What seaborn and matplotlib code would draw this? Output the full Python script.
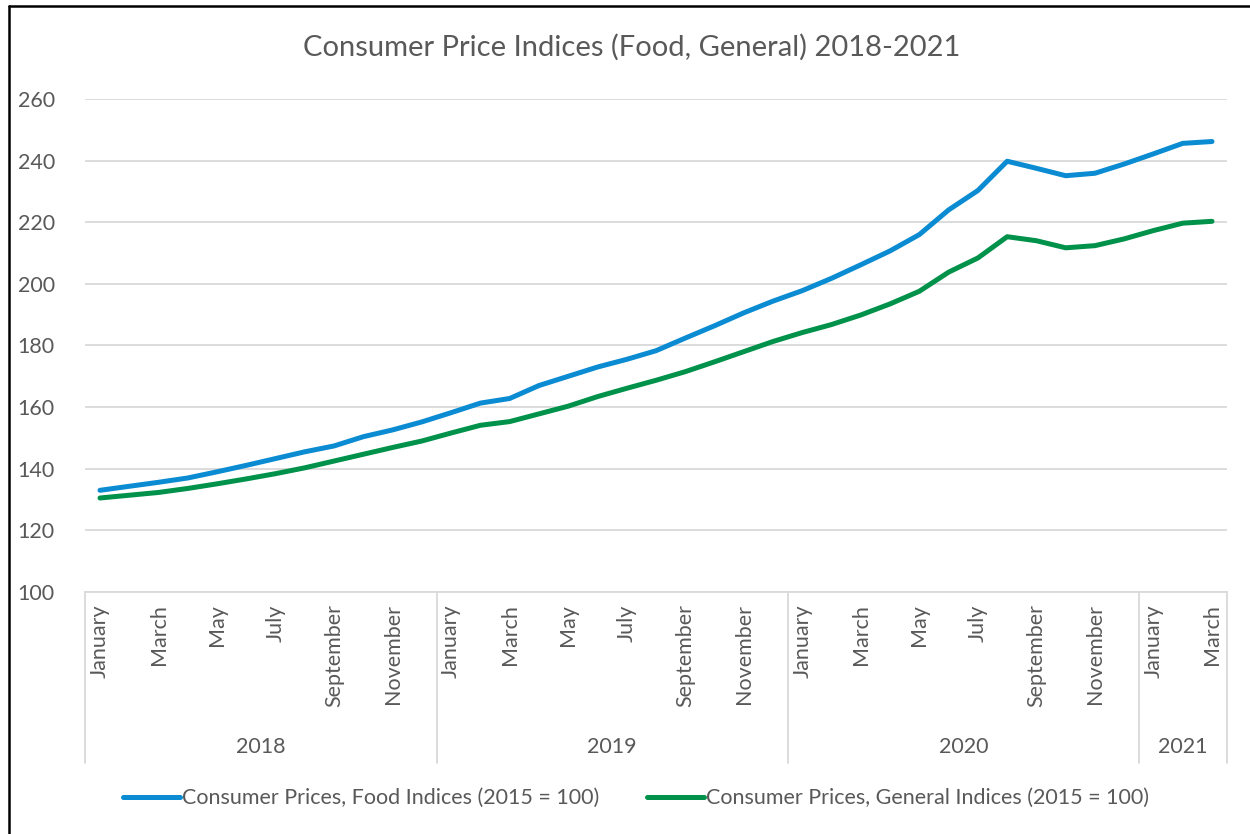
import numpy as np
import pandas as pd
import matplotlib
matplotlib.use("Agg")
import matplotlib.pyplot as plt
from matplotlib.lines import Line2D
import seaborn as sns

# --- dados (índices mensais, 2015 = 100) ---
month_names = ["January", "February", "March", "April", "May", "June", "July",
               "August", "September", "October", "November", "December"]
years = [2018] * 12 + [2019] * 12 + [2020] * 12 + [2021] * 3
months = month_names * 3 + month_names[:3]

food_index = [133.0, 134.3, 135.6, 137.0, 139.0, 141.1, 143.3, 145.5, 147.4, 150.4, 152.6, 155.2,
              158.2, 161.3, 162.8, 167.0, 170.0, 173.0, 175.5, 178.3, 182.4, 186.4, 190.6, 194.4,
              197.8, 201.8, 206.2, 210.7, 216.0, 224.0, 230.3, 239.8, 237.5, 235.1, 235.9, 238.9,
              242.2, 245.6, 246.2]
general_index = [130.5, 131.4, 132.3, 133.6, 135.1, 136.7, 138.4, 140.3, 142.5, 144.7, 146.9, 149.0,
                 151.6, 154.1, 155.3, 157.8, 160.3, 163.4, 166.1, 168.7, 171.5, 174.7, 178.0, 181.3,
                 184.2, 186.8, 189.9, 193.5, 197.6, 203.8, 208.4, 215.3, 214.0, 211.7, 212.4, 214.6,
                 217.3, 219.7, 220.3]

food_label = "Consumer Prices, Food Indices (2015 = 100)"
general_label = "Consumer Prices, General Indices (2015 = 100)"
title = "Consumer Price Indices (Food, General) 2018-2021"

# --- monta o DataFrame no formato longo ---
n = len(months)
df = pd.DataFrame({
    "pos": list(range(n)) * 2,
    "value": food_index + general_index,
    "series": [food_label] * n + [general_label] * n,
})

sns.set_theme(style="white")
plt.rcParams["font.family"] = ["Lato", "DejaVu Sans"]
text_gray = "#595959"
grid_gray = "#D9D9D9"
small_fs = 15.5

fig = plt.figure(figsize=(12.5, 8.34), dpi=100)
ax = fig.add_axes([0.0683, 0.2902, 0.9130, 0.5911])

sns.lineplot(data=df, x="pos", y="value", hue="series",
             palette={food_label: "#0A8BD2", general_label: "#00924A"},
             linewidth=3.6, ax=ax, legend=False, solid_capstyle="round")

# eixo Y
ax.set_ylim(100, 260)
ax.set_yticks(np.arange(100, 261, 20))
ax.yaxis.grid(True, color=grid_gray, linewidth=1.3)
ax.set_axisbelow(True)
ax.tick_params(axis="y", length=0, pad=22, labelsize=small_fs, labelcolor=text_gray)
ax.set_ylabel("")

# eixo X: um rótulo a cada dois meses, rotacionado
ax.set_xlim(-0.5, n - 0.5)
tick_pos = list(range(0, n, 2))
ax.set_xticks(tick_pos)
ax.set_xticklabels([months[i] for i in tick_pos], rotation=90)
ax.tick_params(axis="x", length=0, pad=9, labelsize=small_fs, labelcolor=text_gray)
ax.set_xlabel("")

for side in ["top", "right", "left"]:
    ax.spines[side].set_visible(False)
ax.spines["bottom"].set_color(grid_gray)
ax.spines["bottom"].set_linewidth(1.3)

# segundo nível do eixo: anos e divisórias
trans = ax.get_xaxis_transform()
year_list = sorted(set(years))
bounds = [-0.5]
for yr in year_list:
    idx = [i for i, y in enumerate(years) if y == yr]
    start, end = idx[0] - 0.5, idx[-1] + 0.5
    bounds.append(end)
    ax.text((start + end) / 2, -0.314, str(yr), transform=trans,
            ha="center", va="center", fontsize=small_fs, color=text_gray)
for b in bounds:
    ax.plot([b, b], [0, -0.347], transform=trans, color=grid_gray,
            linewidth=1.3, clip_on=False)

# título e legenda
fig.text(0.5056, 0.9436, title, ha="center", va="center", fontsize=21, color=text_gray)
handles = [Line2D([], [], color="#0A8BD2", linewidth=3.6),
           Line2D([], [], color="#00924A", linewidth=3.6)]
fig.legend(handles, [food_label, general_label], loc="center", ncol=2,
           bbox_to_anchor=(0.509, 0.043), frameon=False, fontsize=small_fs,
           labelcolor=text_gray, handlelength=2.65, handletextpad=0.1,
           columnspacing=2.2)

# moldura preta (cortada à direita e embaixo)
fig.add_artist(Line2D([0.0072, 0.0072], [0, 0.9928], color="black", linewidth=1.8))
fig.add_artist(Line2D([0.0072, 1.0], [0.9928, 0.9928], color="black", linewidth=1.8))

plt.savefig("out.png", dpi=100)
plt.close()
